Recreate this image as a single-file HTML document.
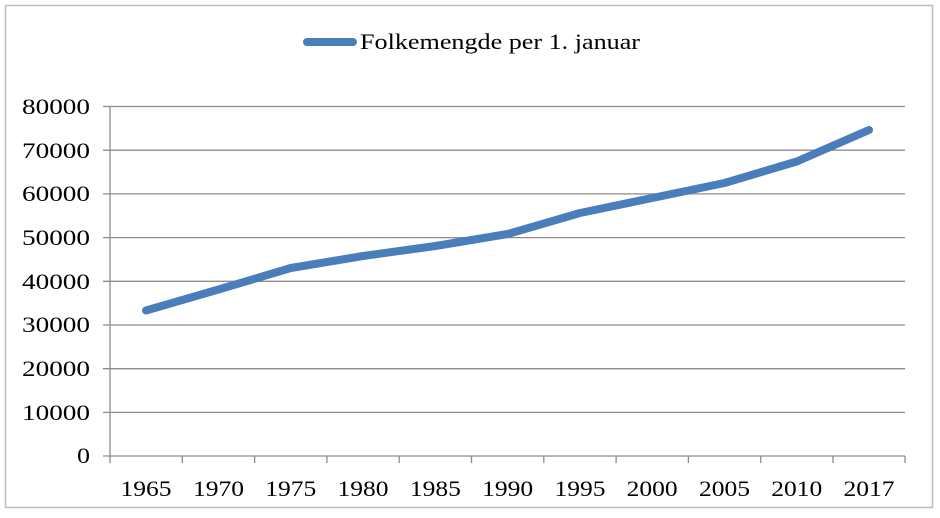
<!DOCTYPE html>
<html><head><meta charset="utf-8"><style>
html,body{margin:0;padding:0;background:#fff;}
</style></head><body>
<svg width="940" height="513" xmlns="http://www.w3.org/2000/svg" font-family="Liberation Serif, serif">
<rect x="5.5" y="5.5" width="927" height="502" fill="#fff" stroke="#bdbdbd" stroke-width="1.5"/>
<g stroke="#8c8c8c" stroke-width="1.3">
<line x1="103" y1="106.5" x2="905" y2="106.5"/>
<line x1="103" y1="150.2" x2="905" y2="150.2"/>
<line x1="103" y1="193.9" x2="905" y2="193.9"/>
<line x1="103" y1="237.6" x2="905" y2="237.6"/>
<line x1="103" y1="281.3" x2="905" y2="281.3"/>
<line x1="103" y1="325" x2="905" y2="325"/>
<line x1="103" y1="368.7" x2="905" y2="368.7"/>
<line x1="103" y1="412.4" x2="905" y2="412.4"/>
<line x1="103" y1="456" x2="905" y2="456"/>
<line x1="110" y1="106.5" x2="110" y2="463"/>
<line x1="182.3" y1="456" x2="182.3" y2="463"/>
<line x1="254.6" y1="456" x2="254.6" y2="463"/>
<line x1="326.9" y1="456" x2="326.9" y2="463"/>
<line x1="399.2" y1="456" x2="399.2" y2="463"/>
<line x1="471.5" y1="456" x2="471.5" y2="463"/>
<line x1="543.8" y1="456" x2="543.8" y2="463"/>
<line x1="616.1" y1="456" x2="616.1" y2="463"/>
<line x1="688.4" y1="456" x2="688.4" y2="463"/>
<line x1="760.7" y1="456" x2="760.7" y2="463"/>
<line x1="833" y1="456" x2="833" y2="463"/>
<line x1="905" y1="456" x2="905" y2="463"/>
</g>
<g font-size="22" fill="#000">
<text x="22" y="114" textLength="68" lengthAdjust="spacingAndGlyphs">80000</text>
<text x="22" y="158" textLength="68" lengthAdjust="spacingAndGlyphs">70000</text>
<text x="22" y="201" textLength="68" lengthAdjust="spacingAndGlyphs">60000</text>
<text x="22" y="245" textLength="68" lengthAdjust="spacingAndGlyphs">50000</text>
<text x="22" y="289" textLength="68" lengthAdjust="spacingAndGlyphs">40000</text>
<text x="22" y="332" textLength="68" lengthAdjust="spacingAndGlyphs">30000</text>
<text x="22" y="376" textLength="68" lengthAdjust="spacingAndGlyphs">20000</text>
<text x="22" y="420" textLength="68" lengthAdjust="spacingAndGlyphs">10000</text>
<text x="77" y="463" textLength="13" lengthAdjust="spacingAndGlyphs">0</text>
</g>
<g font-size="22" fill="#000">
<text x="120.5" y="496" textLength="51" lengthAdjust="spacingAndGlyphs">1965</text>
<text x="193" y="496" textLength="51" lengthAdjust="spacingAndGlyphs">1970</text>
<text x="265.3" y="496" textLength="51" lengthAdjust="spacingAndGlyphs">1975</text>
<text x="337.5" y="496" textLength="51" lengthAdjust="spacingAndGlyphs">1980</text>
<text x="409.9" y="496" textLength="51" lengthAdjust="spacingAndGlyphs">1985</text>
<text x="482.2" y="496" textLength="51" lengthAdjust="spacingAndGlyphs">1990</text>
<text x="554.5" y="496" textLength="51" lengthAdjust="spacingAndGlyphs">1995</text>
<text x="626.7" y="496" textLength="51" lengthAdjust="spacingAndGlyphs">2000</text>
<text x="699" y="496" textLength="51" lengthAdjust="spacingAndGlyphs">2005</text>
<text x="771.3" y="496" textLength="51" lengthAdjust="spacingAndGlyphs">2010</text>
<text x="843.5" y="496" textLength="51" lengthAdjust="spacingAndGlyphs">2017</text>
</g>
<polyline fill="none" stroke="#4a7ebb" stroke-width="8" stroke-linecap="round" stroke-linejoin="round"
points="146,310.5 218.5,289.5 290.8,268 363,256 435.4,246 507.7,234 580,213 652.2,198 724.5,183 796.8,161.5 869,130"/>
<line x1="307" y1="42" x2="353" y2="42" stroke="#4a7ebb" stroke-width="8" stroke-linecap="round"/>
<text x="360" y="49" font-size="22" fill="#000" textLength="280" lengthAdjust="spacingAndGlyphs">Folkemengde per 1. januar</text>
</svg>
</body></html>
